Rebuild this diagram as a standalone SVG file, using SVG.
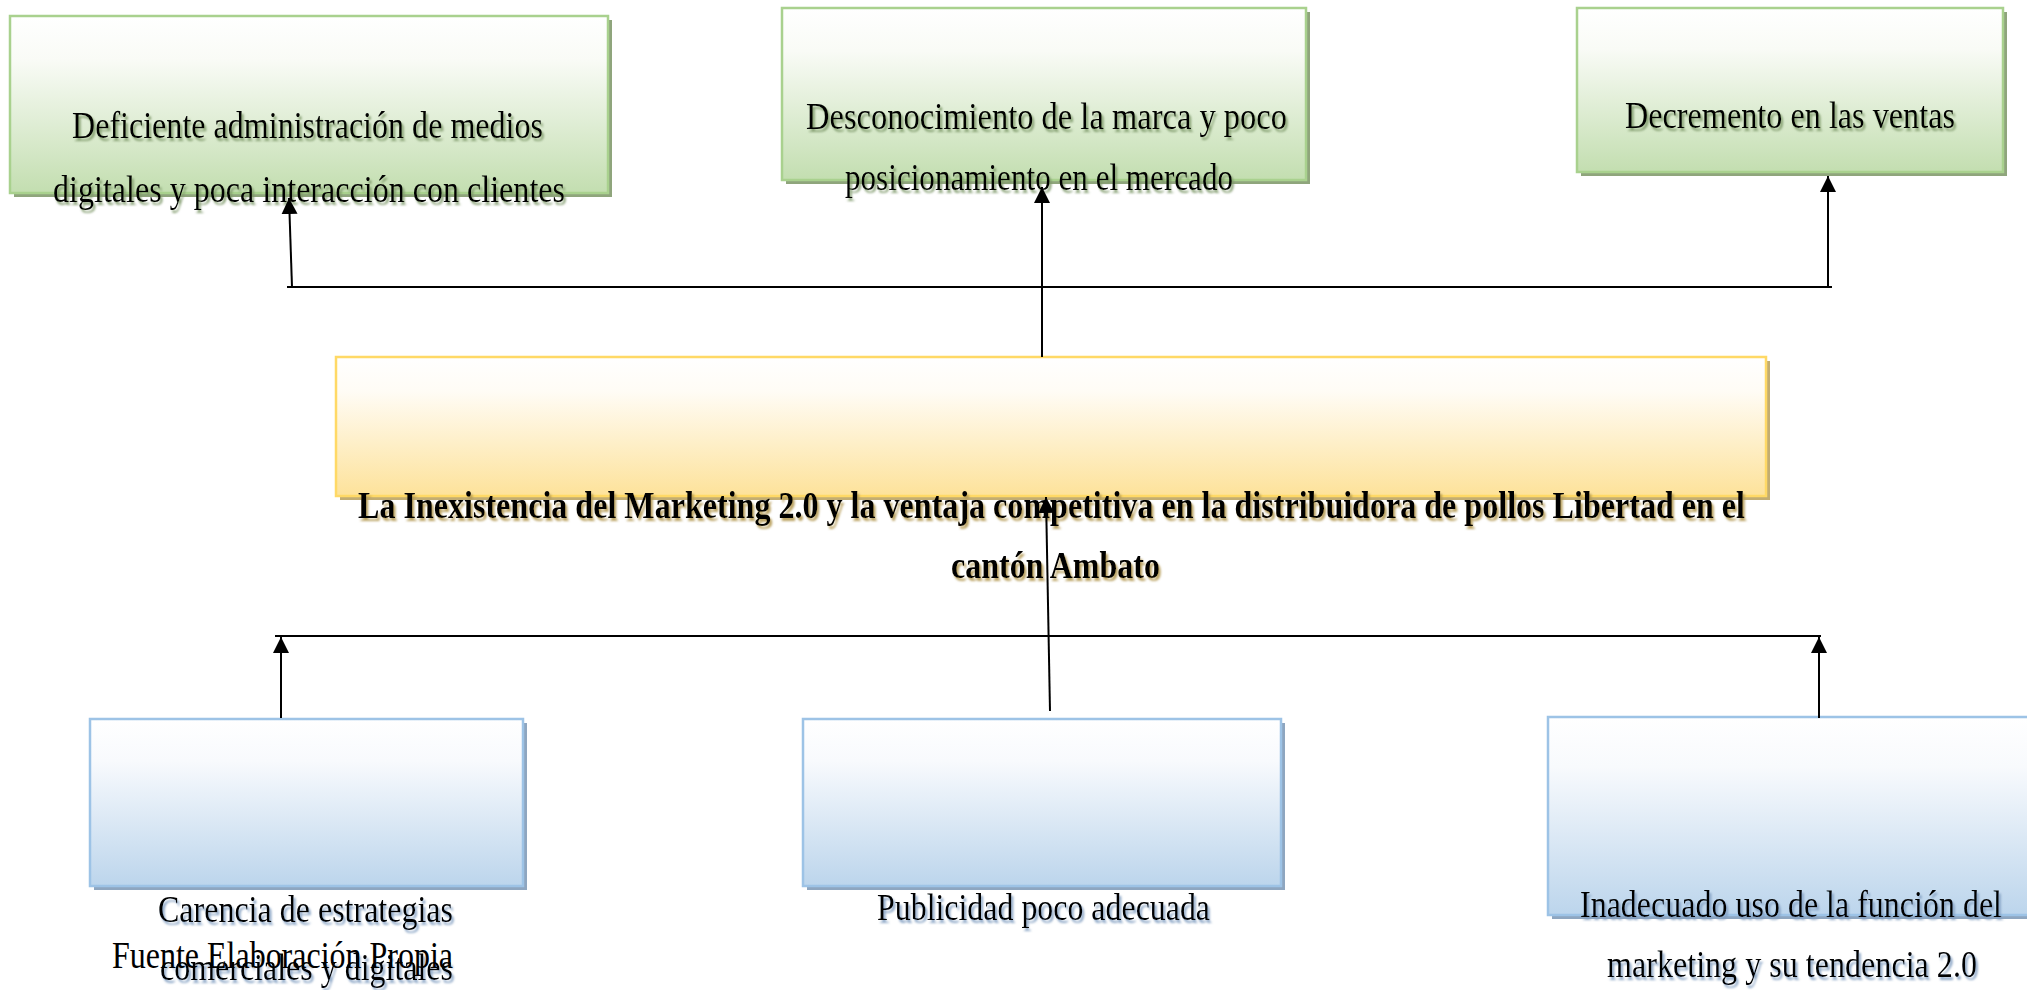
<svg xmlns="http://www.w3.org/2000/svg" width="2027" height="990" viewBox="0 0 2027 990">
<defs>
<linearGradient id="gGreen" x1="0" y1="0" x2="0" y2="1">
<stop offset="0" stop-color="#ffffff"/><stop offset="0.25" stop-color="#f9fbf6"/><stop offset="1" stop-color="#c3deb0"/>
</linearGradient>
<linearGradient id="gYellow" x1="0" y1="0" x2="0" y2="1">
<stop offset="0" stop-color="#ffffff"/><stop offset="0.25" stop-color="#fffcf5"/><stop offset="1" stop-color="#fde29a"/>
</linearGradient>
<linearGradient id="gBlue" x1="0" y1="0" x2="0" y2="1">
<stop offset="0" stop-color="#ffffff"/><stop offset="0.25" stop-color="#f8fafd"/><stop offset="1" stop-color="#bcd5ec"/>
</linearGradient>
<filter id="tsGreen" x="-5%" y="-30%" width="110%" height="160%"><feDropShadow dx="2" dy="3" stdDeviation="1" flood-color="#7d9868" flood-opacity="0.9"/></filter>
<filter id="tsYellow" x="-5%" y="-30%" width="110%" height="160%"><feDropShadow dx="2" dy="3" stdDeviation="1" flood-color="#b49a52" flood-opacity="0.9"/></filter>
<filter id="tsBlue" x="-5%" y="-30%" width="110%" height="160%"><feDropShadow dx="2" dy="3" stdDeviation="1" flood-color="#7f9cc0" flood-opacity="0.9"/></filter>
<marker id="arrow" markerUnits="userSpaceOnUse" markerWidth="16" markerHeight="16" viewBox="0 0 16 16" refX="16" refY="8" orient="auto">
<path d="M0,0 L16,8 L0,16 z" fill="#000"/>
</marker>
</defs>
<style>
text{font-family:"Liberation Serif","Times New Roman",serif;font-size:38px;fill:#000;}
.bold{font-weight:bold;}
.green rect.box{fill:url(#gGreen);stroke:#a9d18e;stroke-width:2.5;}
.green rect.sh{fill:#8fa57c;}
.green text{filter:url(#tsGreen);}
.yellow rect.box{fill:url(#gYellow);stroke:#ffd966;stroke-width:2.5;}
.yellow rect.sh{fill:#c2ad72;}
.yellow text{filter:url(#tsYellow);}
.blue rect.box{fill:url(#gBlue);stroke:#9dc3e6;stroke-width:2.5;}
.blue rect.sh{fill:#8ea6c0;}
.blue text{filter:url(#tsBlue);}
.conn path{stroke:#000;stroke-width:2;fill:none;}
.conn path.arr{marker-end:url(#arrow);}
</style>
<rect width="2027" height="990" fill="#ffffff"/>

<g id="effect1" class="green">
<rect class="sh" x="14" y="20" width="598" height="177"/>
<rect class="box" x="10" y="16" width="598" height="177"/>
<text x="72" y="138" textLength="471" lengthAdjust="spacingAndGlyphs">Deficiente administración de medios</text>
<text x="53" y="202" textLength="512" lengthAdjust="spacingAndGlyphs">digitales y poca interacción con clientes</text>
</g>

<g id="effect2" class="green">
<rect class="sh" x="786" y="12" width="524" height="172"/>
<rect class="box" x="782" y="8" width="524" height="172"/>
<text x="806" y="129" textLength="481" lengthAdjust="spacingAndGlyphs">Desconocimiento de la marca y poco</text>
<text x="845" y="190" textLength="388" lengthAdjust="spacingAndGlyphs">posicionamiento en el mercado</text>
</g>

<g id="effect3" class="green">
<rect class="sh" x="1581" y="12" width="426" height="164"/>
<rect class="box" x="1577" y="8" width="426" height="164"/>
<text x="1625" y="128" textLength="330" lengthAdjust="spacingAndGlyphs">Decremento en las ventas</text>
</g>

<g id="problem" class="yellow">
<rect class="sh" x="340" y="361" width="1430" height="139"/>
<rect class="box" x="336" y="357" width="1430" height="139"/>
<text class="bold" x="358" y="518" textLength="1387" lengthAdjust="spacingAndGlyphs">La Inexistencia del Marketing 2.0 y la ventaja competitiva en la distribuidora de pollos Libertad en el</text>
<text class="bold" x="951" y="578" textLength="209" lengthAdjust="spacingAndGlyphs">cantón Ambato</text>
</g>

<g id="cause1" class="blue">
<rect class="sh" x="94" y="723" width="433" height="167"/>
<rect class="box" x="90" y="719" width="433" height="167"/>
<text x="158" y="922" textLength="295" lengthAdjust="spacingAndGlyphs">Carencia de estrategias</text>
<text x="160" y="980" textLength="293" lengthAdjust="spacingAndGlyphs">comerciales y digitales</text>
</g>

<g id="cause2" class="blue">
<rect class="sh" x="807" y="723" width="478" height="167"/>
<rect class="box" x="803" y="719" width="478" height="167"/>
<text x="877" y="920" textLength="333" lengthAdjust="spacingAndGlyphs">Publicidad poco adecuada</text>
</g>

<g id="cause3" class="blue">
<rect class="sh" x="1552" y="721" width="500" height="198"/>
<rect class="box" x="1548" y="717" width="500" height="198"/>
<text x="1580" y="917" textLength="422" lengthAdjust="spacingAndGlyphs">Inadecuado uso de la función del</text>
<text x="1607" y="977" textLength="370" lengthAdjust="spacingAndGlyphs">marketing y su tendencia 2.0</text>
</g>

<g id="source">
<text x="112" y="968" textLength="341" lengthAdjust="spacingAndGlyphs">Fuente Elaboración Propia</text>
</g>

<g id="connectors" class="conn">
<path d="M287,287 H1832"/>
<path class="arr" d="M292,287 L289,198"/>
<path class="arr" d="M1042,357 L1042,187"/>
<path class="arr" d="M1828,287 L1828,176"/>
<path d="M275,636 H1821"/>
<path class="arr" d="M281,718 L281,637"/>
<path class="arr" d="M1050,711 L1046,497"/>
<path class="arr" d="M1819,718 L1819,637"/>
</g>
</svg>
